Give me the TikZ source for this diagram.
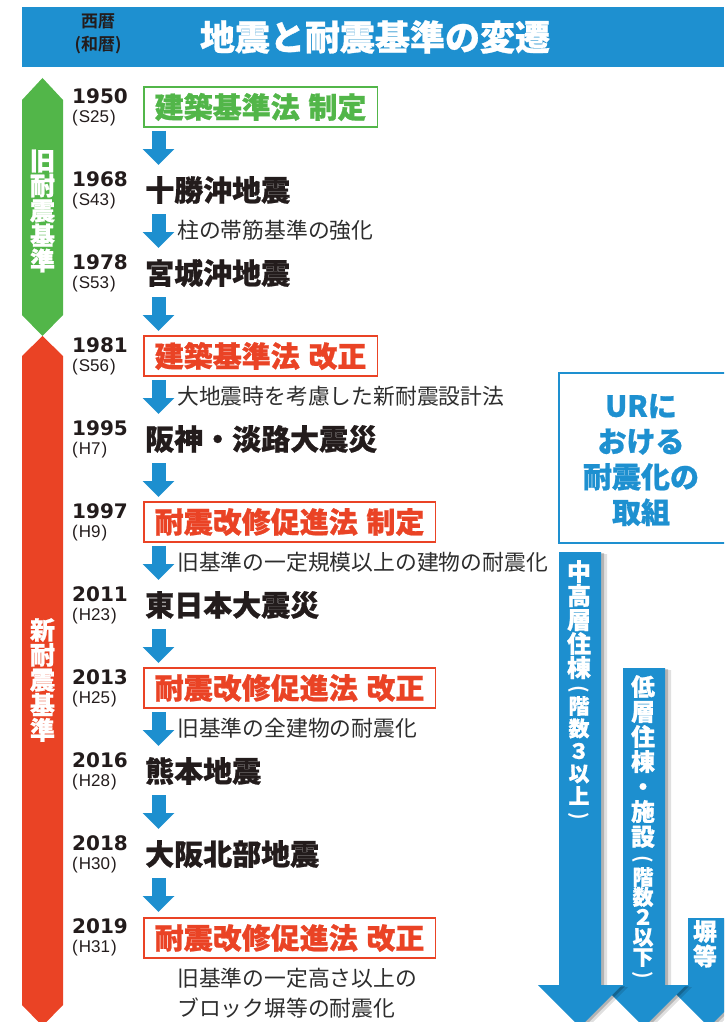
\documentclass[tikz,border=0pt]{standalone}
\usepackage{fontspec}
\setmainfont{Noto Sans CJK JP}[BoldFont={Noto Sans CJK JP Bold}]
\newfontfamily\heavy{Noto Sans CJK JP Bold}[FakeBold=0.8]
\newfontfamily\yearfont{DejaVu Sans}
\newfontfamily\erafont{Liberation Sans}
\usetikzlibrary{arrows.meta}
\definecolor{hblue}{RGB}{30,144,208}
\definecolor{ablue}{RGB}{29,143,207}
\definecolor{ggreen}{RGB}{82,182,73}
\definecolor{rred}{RGB}{234,67,37}
\definecolor{ink}{RGB}{35,28,28}
\definecolor{notegray}{RGB}{45,45,45}
\tikzset{
  yearsty/.style={inner sep=0pt, anchor=west, text=ink, font=\yearfont\bfseries\fontsize{20}{20}\selectfont},
  erasty/.style={inner sep=0pt, anchor=west, text=ink, font=\erafont\fontsize{17}{17}\selectfont},
  evt/.style={inner sep=0pt, anchor=west, text=ink, font=\heavy\bfseries\fontsize{29}{29}\selectfont},
  evbox/.style={anchor=west, draw=#1, text=#1, fill=white, line width=1.5pt, inner xsep=11pt, inner ysep=0pt, minimum height=40pt, font=\heavy\bfseries\fontsize{29}{29}\selectfont},
  note/.style={inner sep=0pt, anchor=west, text=notegray, font=\fontsize{21.8}{30}\selectfont},
  sarrow/.style={ablue, line width=14pt, -{Triangle[width=31pt,length=16pt]}},
  bartext/.style={inner sep=0pt, text=white, align=center, font=\heavy\bfseries\fontsize{25}{25}\selectfont},
  arrtext/.style={inner sep=0pt, anchor=north, text=white, align=center, font=\heavy\bfseries\fontsize{24}{#1}\selectfont},
  arrsmall/.style={inner sep=0pt, anchor=north, text=white, align=center, font=\heavy\bfseries\fontsize{21}{#1}\selectfont},
  vparen/.style={inner sep=0pt, text=white, rotate=-90, font=\bfseries\fontsize{20}{20}\selectfont},
}
\newcommand\bigarrowpath[2]{(#1-21,#2) -- (#1+21,#2) -- (#1+21,985) -- (#1+42,985) -- (#1,1027) -- (#1-42,985) -- (#1-21,985) -- cycle}
\begin{document}
\begin{tikzpicture}[x=1pt,y=-1pt]
\useasboundingbox (0,0) rectangle (724,1022);
\clip (0,0) rectangle (724,1022);
% header
\fill[hblue] (22,7) rectangle (724,67);
\node[align=center, text=ink, inner sep=0pt, font=\bfseries\fontsize{17}{23}\selectfont] (hdrsub) at (98,34) {西暦\\(和暦)};
\node[text=white, inner sep=0pt, font=\heavy\bfseries\fontsize{35}{35}\selectfont] (title) at (375,37) {地震と耐震基準の変遷};
% left bars
\fill[ggreen] (22,100) -- (42.5,78) -- (63,100) -- (63,315) -- (42.5,336) -- (22,315) -- cycle;
\fill[rred] (22,356) -- (42.5,336) -- (63,356) -- (63,1005) -- (42.5,1026) -- (22,1005) -- cycle;
\node[bartext] (oldstd) at (42.5,211) {旧\\耐\\震\\基\\準};
\node[bartext] (newstd) at (42.5,680) {新\\耐\\震\\基\\準};
% years
\foreach \i/\yr/\era in {0/1950/S25,1/1968/S43,2/1978/S53,3/1981/S56,4/1995/H7,5/1997/H9,6/2011/H23,7/2013/H25,8/2016/H28,9/2018/H30,10/2019/H31}{
  \pgfmathsetmacro\yy{96+83*\i}
  \pgfmathsetmacro\ye{118+83*\i}
  \node[yearsty] (yr\i) at (72,\yy) {\yr};
  \node[erasty] (era\i) at (72,\ye) {(\kern1pt\era\kern1pt)};
}
% small arrows
\foreach \i in {0,...,9}{
  \pgfmathsetmacro\ya{131+83*\i}
  \pgfmathsetmacro\yb{165+83*\i}
  \coordinate (as\i) at (158.5,\ya);
  \coordinate (ae\i) at (158.5,\yb);
  \draw[sarrow] (as\i) -- (ae\i);
}
% events
\node[evbox=ggreen] (ev0) at (143,107) {建築基準法\hspace{0.3em}制定};
\node[evt] (ev1) at (145,190) {十勝沖地震};
\node[evt] (ev2) at (145,273) {宮城沖地震};
\node[evbox=rred] (ev3) at (143,356) {建築基準法\hspace{0.3em}改正};
\node[evt] (ev4) at (145,439) {阪神・淡路大震災};
\node[evbox=rred] (ev5) at (143,522) {耐震改修促進法\hspace{0.3em}制定};
\node[evt] (ev6) at (145,605) {東日本大震災};
\node[evbox=rred] (ev7) at (143,688) {耐震改修促進法\hspace{0.3em}改正};
\node[evt] (ev8) at (145,771) {熊本地震};
\node[evt] (ev9) at (145,854) {大阪北部地震};
\node[evbox=rred] (ev10) at (143,938) {耐震改修促進法\hspace{0.3em}改正};
% notes
\node[note] (n1) at (177,230) {柱の帯筋基準の強化};
\node[note] (n3) at (177,396) {大地震時を考慮した新耐震設計法};
\node[note] (n5) at (177,562) {旧基準の一定規模以上の建物の耐震化};
\node[note] (n7) at (177,728) {旧基準の全建物の耐震化};
\node[note, align=left] (n10) at (177,993) {旧基準の一定高さ以上の\\ブロック塀等の耐震化};
% UR box
\draw[hblue, line width=2pt] (559,373) rectangle (740,543);
\node[text=hblue, align=center, inner sep=0pt, font=\heavy\bfseries\fontsize{29}{35.5}\selectfont] (ur) at (641,460) {URに\\おける\\耐震化の\\取組};
% big arrows (3 below, 1 on top)
\fill[black, opacity=0.12] [xshift=6pt,yshift=-2pt] \bigarrowpath{709}{918};
\fill[black, opacity=0.2] [xshift=3pt,yshift=-1pt] \bigarrowpath{709}{918};
\fill[ablue] \bigarrowpath{709}{918};
\fill[black, opacity=0.12] [xshift=6pt,yshift=-2pt] \bigarrowpath{644}{668};
\fill[black, opacity=0.2] [xshift=3pt,yshift=-1pt] \bigarrowpath{644}{668};
\fill[ablue] \bigarrowpath{644}{668};
\fill[black, opacity=0.12] [xshift=6pt,yshift=-2pt] \bigarrowpath{580}{552};
\fill[black, opacity=0.2] [xshift=3pt,yshift=-1pt] \bigarrowpath{580}{552};
\fill[ablue] \bigarrowpath{580}{552};
% arrow texts
\node[arrtext=24] (a1m) at (579,560) {中\\高\\層\\住\\棟};
\node[vparen] (a1o) at (579,689) {(};
\node[arrsmall=22.5] (a1p) at (579,696) {階\\数\\３\\以\\上};
\node[vparen] (a1c) at (579,816) {)};
\node[arrtext=25] (a2m) at (643,675) {低\\層\\住\\棟\\・\\施\\設};
\node[vparen] (a2o) at (643,859) {(};
\node[arrsmall=20] (a2p) at (643,867) {階\\数\\２\\以\\下};
\node[vparen] (a2c) at (643,975) {)};
\node[arrtext=25] (a3m) at (705,920) {塀\\等};
\end{tikzpicture}
\end{document}
